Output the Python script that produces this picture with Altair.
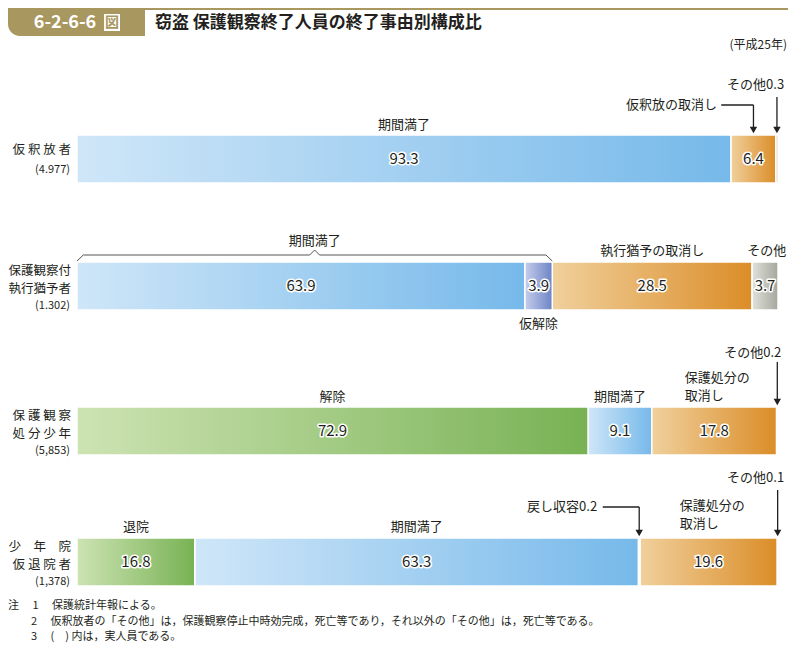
import altair as alt
import pandas as pd

FONT = "Noto Sans CJK JP"
TXT = "#231f20"
GOLD = "#a8975f"

# ---------------- data ----------------
rows = ["仮釈放者", "保護観察付執行猶予者", "保護観察処分少年", "少年院仮退院者"]
row_label_top = ["仮 釈 放 者", "保護観察付", "保 護 観 察", "少　年　院"]
row_label_bottom = ["", "執行猶予者", "処 分 少 年", "仮 退 院 者"]
row_counts = ["(4.977)", "(1.302)", "(5,853)", "(1,378)"]

seg_cats = [
    ["期間満了", "仮釈放の取消し", "その他"],
    ["期間満了", "仮解除", "執行猶予の取消し", "その他"],
    ["解除", "期間満了", "保護処分の取消し", "その他"],
    ["退院", "期間満了", "戻し収容", "保護処分の取消し", "その他"],
]
seg_vals = [
    [93.3, 6.4, 0.3],
    [63.9, 3.9, 28.5, 3.7],
    [72.9, 9.1, 17.8, 0.2],
    [16.8, 63.3, 0.2, 19.6, 0.1],
]

# annotation texts: row index, x position (%), text, vertical offset, alignment
ann_row = [0, 0, 0, 1, 1, 1, 1, 2, 2, 2, 2, 2, 3, 3, 3, 3, 3, 3]
ann_pct = [46.65, 91.3, 96.8, 33.9, 82.05, 98.4, 65.85, 36.45, 77.45, 86.7, 86.7, 96.4,
           8.4, 48.45, 74.2, 86.0, 86.0, 96.8]
ann_text = ["期間満了", "仮釈放の取消し", "その他0.3", "期間満了", "執行猶予の取消し", "その他", "仮解除",
            "解除", "期間満了", "保護処分の", "取消し", "その他0.2",
            "退院", "期間満了", "戻し収容0.2", "保護処分の", "取消し", "その他0.1"]
ann_dy = [-34, -54, -74, -45, -35, -35, 38, -34, -34, -53, -35, -78,
          -35, -35, -55, -56, -38, -84]
ann_align = ["center", "right", "center", "center", "center", "center", "center",
             "center", "center", "left", "left", "center",
             "center", "center", "right", "left", "left", "center"]

# arrows: row, x (%), top offset
arrow_row = [0, 0, 2, 3, 3]
arrow_pct = [96.5, 99.85, 99.9, 80.2, 99.95]
arrow_top = [-54, -62, -69, -55, -72]
# horizontal connectors: row, x1, x2, offset
conn_row = [0, 3]
conn_x1 = [91.9, 75.0]
conn_x2 = [96.5, 80.2]
conn_dy = [-54, -55]

# brace over 期間満了 (row 1): segments (x1, y1, x2, y2)
brace_x1 = [0.0, 0.9, 33.2, 33.9, 34.6, 66.9]
brace_x2 = [0.9, 33.2, 33.9, 34.6, 66.9, 67.8]
brace_y1 = [-25, -31, -31, -36, -31, -31]
brace_y2 = [-31, -31, -36, -31, -31, -25]

footnotes = [
    "注　 1 　保護統計年報による。",
    "2 　仮釈放者の「その他」は，保護観察停止中時効完成，死亡等であり，それ以外の「その他」は，死亡等である。",
    "3 　(　) 内は，実人員である。",
]

# ---------------- build ----------------
def kind_of(c):
    if "取消" in c:
        return "orange"
    if c in ("解除", "退院"):
        return "green"
    if c == "期間満了":
        return "blue"
    if c == "仮解除":
        return "purple"
    if c == "戻し収容":
        return "pale"
    return "grey"

recs = []
for i, (cats, vals) in enumerate(zip(seg_cats, seg_vals)):
    cum = 0.0
    for c, v in zip(cats, vals):
        recs.append(dict(idx=i, row=rows[i], cat=c, start=cum, end=cum + v,
                         mid=cum + v / 2, kind=kind_of(c),
                         label=(f"{v:.1f}" if v >= 1 else "")))
        cum += v
df = pd.DataFrame(recs)

XS = alt.Scale(domain=[0, 100], range=[69, 770], nice=False, zero=False)
YS = alt.Scale(domain=[0, 1, 2, 3], range=[151, 278, 423, 554], nice=False, zero=False)

def X(f):
    return alt.X(f, type="quantitative", scale=XS, axis=None)

def Y(f):
    return alt.Y(f, type="quantitative", scale=YS, axis=None)

def grad(c0, c1):
    return alt.Gradient(gradient="linear",
                        stops=[alt.GradientStop(color=c0, offset=0),
                               alt.GradientStop(color=c1, offset=1)],
                        x1=0, x2=1, y1=0, y2=0)

kind_colors = {
    "blue": ("#cfe6f8", "#76b9ea"),
    "orange": ("#f0d09c", "#db8d28"),
    "green": ("#cde3b3", "#78b254"),
    "purple": ("#c6cdec", "#6c84c5"),
    "grey": ("#e0e1db", "#a5a79c"),
    "pale": ("#f1f1f1", "#e4e4e4"),
}

layers = []
base = alt.Chart(df)
for k, (c0, c1) in kind_colors.items():
    layers.append(
        base.transform_filter(alt.datum.kind == k)
        .mark_rect(fill=grad(c0, c1), stroke="white", strokeWidth=1.5,
                   yOffset=-24, y2Offset=24)
        .encode(x=X("start"), x2=alt.X2("end"), y=Y("idx"), y2=alt.Y2("idx"))
    )

lab = base.transform_filter(alt.datum.label != "")
layers.append(lab.mark_text(font=FONT, fontSize=15, stroke="white", strokeWidth=3,
                            strokeJoin="round", color="white")
              .encode(x=X("mid"), y=Y("idx"), text="label:N"))
layers.append(lab.mark_text(font=FONT, fontSize=15, color=TXT)
              .encode(x=X("mid"), y=Y("idx"), text="label:N"))

# annotation texts
for r, p, t, dy, al in zip(ann_row, ann_pct, ann_text, ann_dy, ann_align):
    d = pd.DataFrame({"idx": [r], "pct": [p], "t": [t]})
    layers.append(alt.Chart(d).mark_text(font=FONT, fontSize=13, color=TXT, dy=dy, align=al)
                  .encode(x=X("pct"), y=Y("idx"), text="t:N"))

# arrows
for r, p, top in zip(arrow_row, arrow_pct, arrow_top):
    d = pd.DataFrame({"idx": [r], "pct": [p]})
    layers.append(alt.Chart(d).mark_rule(color=TXT, strokeWidth=1.3, yOffset=top, y2Offset=-31)
                  .encode(x=X("pct"), y=Y("idx"), y2=alt.Y2("idx")))
    layers.append(alt.Chart(d).mark_point(shape="triangle-down", filled=True, size=55,
                                          color=TXT, opacity=1, yOffset=-29)
                  .encode(x=X("pct"), y=Y("idx")))
for r, a, b, dy in zip(conn_row, conn_x1, conn_x2, conn_dy):
    d = pd.DataFrame({"idx": [r], "a": [a], "b": [b]})
    layers.append(alt.Chart(d).mark_rule(color=TXT, strokeWidth=1.3, yOffset=dy)
                  .encode(x=X("a"), x2=alt.X2("b"), y=Y("idx")))

# brace
for a, b, ya, yb in zip(brace_x1, brace_x2, brace_y1, brace_y2):
    d = pd.DataFrame({"idx": [1], "a": [a], "b": [b]})
    layers.append(alt.Chart(d).mark_rule(color="#555", strokeWidth=1, yOffset=ya, y2Offset=yb)
                  .encode(x=X("a"), x2=alt.X2("b"), y=Y("idx"), y2=alt.Y2("idx")))

# row labels
lab_df = pd.DataFrame({"idx": list(range(4)), "top": row_label_top,
                       "bottom": row_label_bottom, "cnt": row_counts})
for i in range(4):
    d = lab_df.iloc[[i]]
    one_line = row_label_bottom[i] == ""
    top_dy = -9 if one_line else -15
    cnt_dy = 11 if one_line else 20
    layers.append(alt.Chart(d).mark_text(font=FONT, fontSize=12.5, color=TXT, align="right", dy=top_dy)
                  .encode(x=alt.value(63), y=Y("idx"), text="top:N"))
    if not one_line:
        layers.append(alt.Chart(d).mark_text(font=FONT, fontSize=12.5, color=TXT, align="right", dy=3)
                      .encode(x=alt.value(63), y=Y("idx"), text="bottom:N"))
    layers.append(alt.Chart(d).mark_text(font=FONT, fontSize=11, color=TXT, align="right", dy=cnt_dy)
                  .encode(x=alt.value(62), y=Y("idx"), text="cnt:N"))

# header & notes
dummy = pd.DataFrame({"a": [0]})

def rect(x0, x1, y0, y1, fill, **kw):
    return alt.Chart(dummy).mark_rect(fill=fill, **kw).encode(
        x=alt.value(x0), x2=alt.value(x1), y=alt.value(y0), y2=alt.value(y1))

def txt(s, x, y, size=13, align="left", weight="normal", color=TXT):
    return alt.Chart(dummy).mark_text(font=FONT, fontSize=size, align=align, baseline="middle",
                                      fontWeight=weight, color=color).encode(
        x=alt.value(x), y=alt.value(y), text=alt.value(s))

layers.append(rect(0, 137, 0, 28, GOLD, cornerRadiusBottomLeft=12))
layers.append(rect(137, 780, 0, 2, GOLD))
layers.append(txt("6-2-6-6", 57, 14.5, size=18, align="center", weight="bold", color="white"))
layers.append(rect(96, 112, 6, 23, "white"))
layers.append(txt("図", 104, 14.5, size=14, align="center", weight="bold", color=GOLD))
layers.append(txt("窃盗 保護観察終了人員の終了事由別構成比", 147, 15, size=17, weight="bold"))
layers.append(txt("(平成25年)", 779, 37, size=12, align="right"))
layers.append(txt(footnotes[0], 0, 598, size=11))
layers.append(txt(footnotes[1], 23, 614, size=11))
layers.append(txt(footnotes[2], 23, 629, size=11))

chart = alt.layer(*layers).properties(
    width=780, height=637, padding=0, autosize=alt.AutoSizeParams(type="none")
).configure_view(stroke=None)

chart.save("out.html", embed_options={"renderer": "svg", "actions": False})
